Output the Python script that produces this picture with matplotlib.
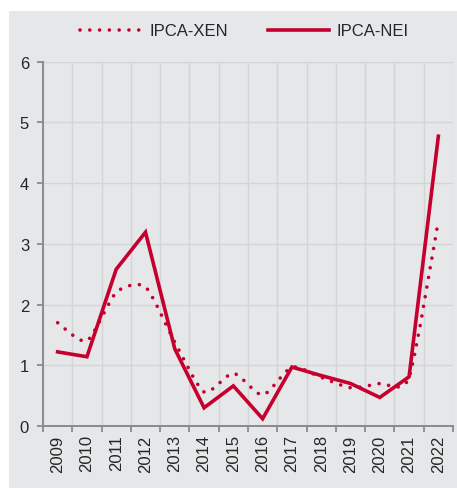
import matplotlib
matplotlib.use("Agg")
import matplotlib.pyplot as plt
from matplotlib.path import Path
from matplotlib.patches import PathPatch, Rectangle
from matplotlib.lines import Line2D
import numpy as np

plt.rcParams['font.family'] = ['Liberation Sans', 'DejaVu Sans']

years = ["2009", "2010", "2011", "2012", "2013", "2014", "2015", "2016",
         "2017", "2018", "2019", "2020", "2021", "2022"]
ipca_xen = [1.70, 1.40, 2.20, 2.29, 1.38, 0.56, 0.87, 0.51, 0.97, 0.80, 0.63, 0.70, 0.80, 3.38]
ipca_nei = [1.22, 1.14, 2.58, 3.19, 1.27, 0.30, 0.66, 0.12, 0.97, 0.83, 0.70, 0.47, 0.81, 4.77]

RED = "#c5002f"
BG = "#e6e7e9"
GRID = "#d3d4d6"
SPINE = "#8a8a8a"
TXT = "#262626"

W, H = 457, 489
fig = plt.figure(figsize=(W / 100, H / 100), dpi=100)
fig.patch.set_facecolor("white")
fig.patches.append(Rectangle((9 / W, 0), (W - 9) / W, (H - 12) / H,
                             transform=fig.transFigure, facecolor=BG,
                             edgecolor="none", zorder=-10))

ax = fig.add_axes([43 / W, (H - 427) / H, (453 - 43) / W, (427 - 62.5) / H])
ax.set_facecolor(BG)

x = np.arange(len(years))

# smoothed curve (cardinal spline -> cubic Bezier) for IPCA-XEN
pts = np.column_stack([x, ipca_xen]).astype(float)
verts = [tuple(pts[0])]
codes = [Path.MOVETO]
n = len(pts)
k = 1.0 / 9.0
for i in range(n - 1):
    p0 = pts[i - 1] if i > 0 else pts[i]
    p1 = pts[i]
    p2 = pts[i + 1]
    p3 = pts[i + 2] if i + 2 < n else pts[i + 1]
    c1 = p1 + (p2 - p0) * k
    c2 = p2 - (p3 - p1) * k
    verts += [tuple(c1), tuple(c2), tuple(p2)]
    codes += [Path.CURVE4] * 3
patch = PathPatch(Path(verts, codes), facecolor="none", edgecolor=RED,
                  linewidth=2.6, linestyle=(0, (0.01, 2.7)), capstyle="round",
                  zorder=3)
ax.add_patch(patch)

ax.plot(x, ipca_nei, color=RED, linewidth=2.6, solid_joinstyle="miter", zorder=4)

ax.set_xlim(-0.5, len(years) - 0.5)
ax.set_ylim(0, 6)
ax.set_yticks(range(0, 7))
ax.set_xticks(np.arange(-0.5, len(years), 1.0))
ax.set_xticklabels([])
ax.set_xticks(x, minor=True)
ax.set_xticklabels(years, minor=True, rotation=90, fontsize=12, color=TXT)
ax.tick_params(axis="x", which="minor", length=0, pad=6)
ax.tick_params(axis="x", which="major", length=4, width=1.3, color=SPINE)
ax.tick_params(axis="y", length=4, width=1.3, color=SPINE, labelsize=12,
               labelcolor=TXT, pad=6)

ax.grid(True, which="major", color=GRID, linewidth=1.0)
ax.set_axisbelow(True)
for s in ["top", "right"]:
    ax.spines[s].set_visible(False)
for s in ["left", "bottom"]:
    ax.spines[s].set_color(SPINE)
    ax.spines[s].set_linewidth(1.4)

handles = [
    Line2D([], [], color=RED, linewidth=2.6, linestyle=(0, (0.01, 2.7)),
           dash_capstyle="round"),
    Line2D([], [], color=RED, linewidth=2.6),
]
fig.legend(handles, ["IPCA-XEN", "IPCA-NEI"], loc="center",
           bbox_to_anchor=(0.535, 1 - 32 / H), ncol=2, frameon=False,
           fontsize=12, handlelength=3.7, handletextpad=0.45,
           columnspacing=2.4, labelcolor=TXT)

fig.savefig("out.png", dpi=100, facecolor="white")
